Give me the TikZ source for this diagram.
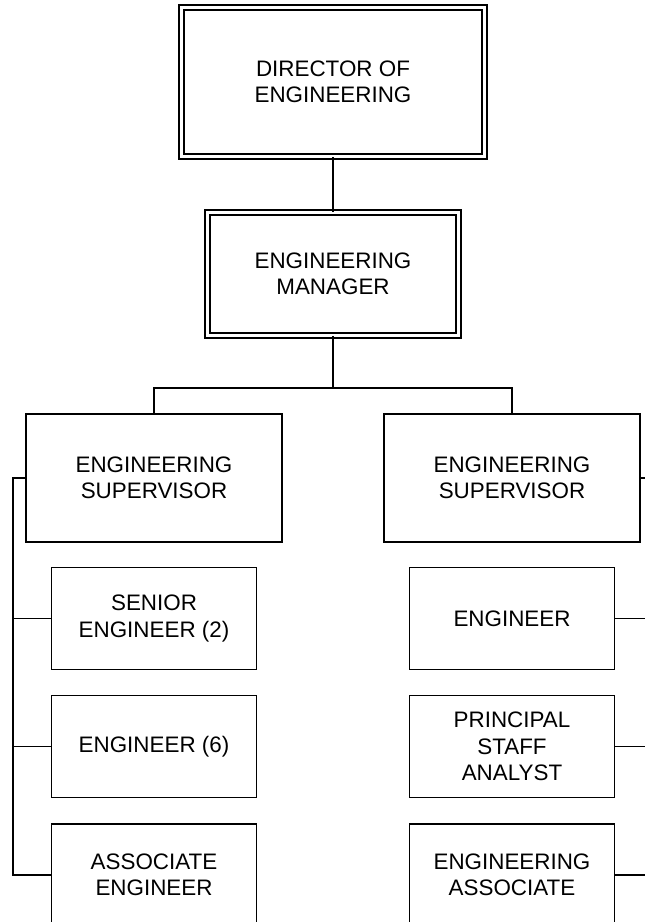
\documentclass[tikz,border=0pt]{standalone}
\usepackage{fontspec}
\setmainfont{Liberation Sans}
\usepackage{tikz}
\usetikzlibrary{positioning}
\tikzset{%
  orgbox/.style={%
    draw=black,
    fill=white,
    line width=1.3pt,
    inner sep=0pt,
    align=center,
    font=\fontsize{22.4}{26.5}\selectfont
  },
  orghead/.style={%
    orgbox,
    double,
    double distance=3.6pt
  },
  supbox/.style={orgbox,minimum width=256pt,minimum height=128pt},
  staffbox/.style={orgbox,minimum width=205pt,minimum height=102pt},
  orgline/.style={line width=1.3pt,draw=black}
}
\begin{document}
\begin{tikzpicture}[x=1pt,y=-1pt]
    \useasboundingbox (0,0) rectangle (645,922);
    \clip (0,0) rectangle (645,922);
    \node[orghead,minimum width=303pt,minimum height=149pt] (director) at (333,82) {DIRECTOR OF\\ENGINEERING};
    \node[orghead,minimum width=251pt,minimum height=123pt] (manager) at (333,274) {ENGINEERING\\MANAGER};
    \node[supbox] (supL) at (154,478) {ENGINEERING\\SUPERVISOR};
    \node[supbox] (supR) at (512,478) {ENGINEERING\\SUPERVISOR};
    \node[staffbox,below=24pt of supL] (seniorL) {SENIOR\\ENGINEER (2)};
    \node[staffbox,below=25pt of seniorL] (engL) {ENGINEER (6)};
    \node[staffbox,below=25pt of engL] (assocL) {ASSOCIATE\\ENGINEER};
    \node[staffbox,below=24pt of supR] (engR) {ENGINEER};
    \node[staffbox,below=25pt of engR] (analystR) {PRINCIPAL\\STAFF\\ANALYST};
    \node[staffbox,below=25pt of analystR] (assocR) {ENGINEERING\\ASSOCIATE};

    \coordinate (split) at (333,388);
    \coordinate (spineL) at (13,478);
    \coordinate (spineR) at (662,478);

    \draw[orgline] (director) -- (manager);
    \draw[orgline] (manager) -- (split);
    \draw[orgline] (supL.north) |- (split) -| (supR.north);
    \draw[orgline] (supL.west) -- (spineL) |- (assocL.west);
    \draw[orgline] (spineL |- seniorL.west) -- (seniorL.west);
    \draw[orgline] (spineL |- engL.west) -- (engL.west);
    \draw[orgline] (supR.east) -- (spineR) |- (assocR.east);
    \draw[orgline] (spineR |- engR.east) -- (engR.east);
    \draw[orgline] (spineR |- analystR.east) -- (analystR.east);
  \end{tikzpicture}
\end{document}
